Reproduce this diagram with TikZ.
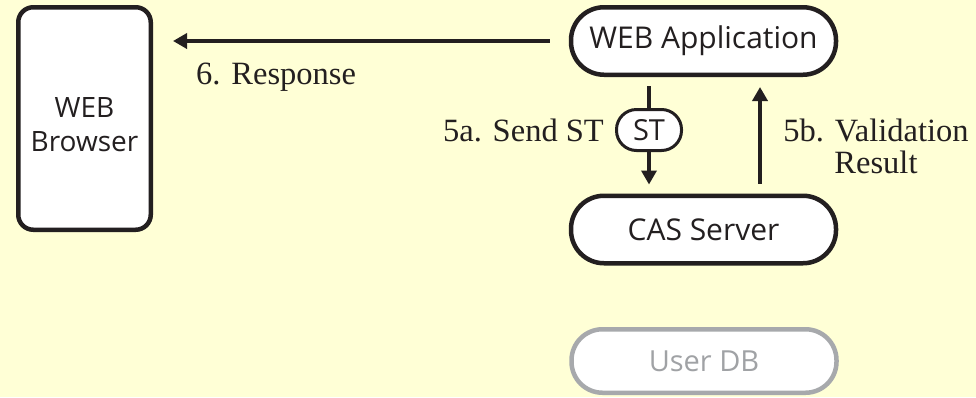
\documentclass[tikz,border=0pt]{standalone}
\usepackage{fontspec}
\setmainfont{Liberation Serif}
\newfontfamily\boxfont{Open Sans}
\usetikzlibrary{arrows.meta,backgrounds}
\definecolor{paper}{HTML}{FFFFD6}
\definecolor{ink}{HTML}{231F20}
\definecolor{dim}{HTML}{A7A9AC}
\definecolor{dimtext}{HTML}{A0A2A5}

\begin{document}
\begin{tikzpicture}[x=1pt,y=-1pt,
  box/.style={draw=ink, fill=white, line width=4.5pt, text=ink, inner sep=0pt,
    align=center, font=\boxfont\fontsize{30}{34}\selectfont},
  pill/.style={box, minimum width=265pt, minimum height=67.5pt, rounded corners=33pt},
  token/.style={box, line width=3pt, minimum width=65pt, minimum height=41pt,
    rounded corners=20pt, font=\boxfont\fontsize{29}{30}\selectfont},
  label/.style={text=ink, inner sep=0pt, font=\fontsize{32.5}{31.5}\selectfont},
  flow/.style={draw=ink, line width=4pt, -{Triangle[length=14pt,width=15pt]}}
]
  % canvas
  \useasboundingbox (0,0) rectangle (976,397);

  % parties
  \node[box, rounded corners=15pt, minimum width=132.5pt, minimum height=222.5pt,
    font=\boxfont\fontsize{28}{34}\selectfont, text height=65pt, text depth=0pt]
    (browser) at (84.5,118.5) {WEB\\Browser};
  \node[pill] (webapp) at (703.5,41) {WEB Application};
  \node[pill] (cas) at (703.5,229.5) {CAS Server};
  \node[pill, draw=dim, text=dimtext, minimum height=63.5pt, rounded corners=31pt,
    font=\boxfont\fontsize{29}{34}\selectfont]
    (userdb) at (704,361) {User DB};
  \node[token] (st) at (649,130) {ST};

  % messages; the ticket token sits on top of the 5a line
  \begin{pgfonlayer}{background}
    \fill[paper] (0,0) rectangle (976,397);
    \draw[flow, shorten <=9pt, shorten >=9pt] (webapp.south -| st) -- (cas.north -| st);
  \end{pgfonlayer}
  \draw[flow, shorten <=10pt, shorten >=10pt]
    ([xshift=56.5pt]cas.north) -- ([xshift=56.5pt]webapp.south);
  \draw[flow, shorten <=19pt, shorten >=20pt] (webapp.west) -- (webapp.west -| browser.east);

  % message labels (base of a two-line label is its last line)
  \node[label, anchor=base west] (lresp) at (196,84) {6. Response};
  \node[label, anchor=base east] (lsend) at (604,141) {5a. Send ST};
  \node[label, anchor=base, align=center] (lvalid) at (876,173) {5b. Validation\\Result};
\end{tikzpicture}
\end{document}
